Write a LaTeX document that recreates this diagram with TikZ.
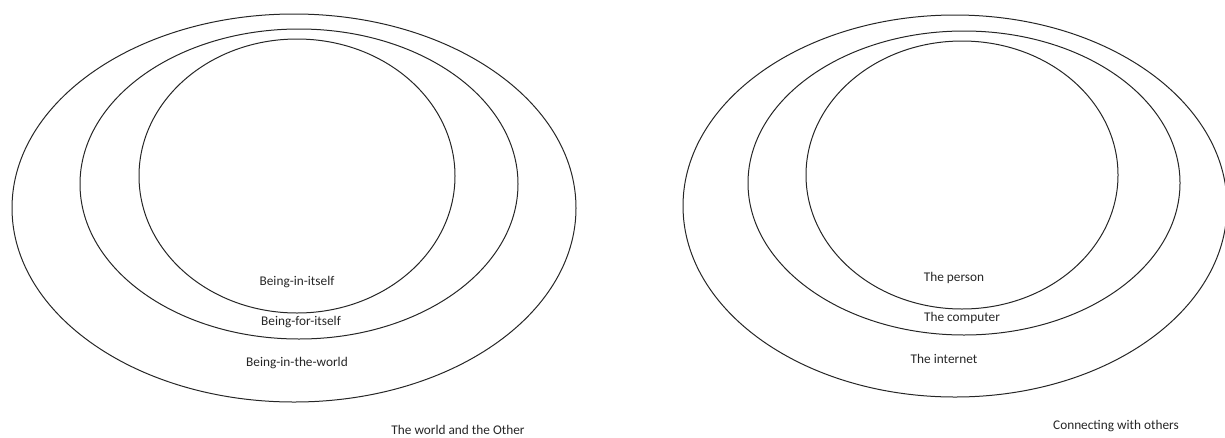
\documentclass[tikz,border=0pt]{standalone}
\usepackage{fontspec}
\setmainfont{Carlito}
\begin{document}
\begin{tikzpicture}[
  x=1pt, y=-1pt,
  every node/.style={font=\fontsize{13.3}{16}\selectfont, text=black!85, inner sep=0pt},
  ring/.style={draw=black!85, line width=1pt}
]
\clip (0,0) rectangle (1225,437);
% left: Being
\draw[ring] (294,208) ellipse [x radius=282pt, y radius=194pt];
\draw[ring] (299,184) ellipse [x radius=219pt, y radius=155pt];
\draw[ring] (297,176) ellipse [x radius=158pt, y radius=137pt];
\node (initself) at (297,282) {Being-in-itself};
\node (foritself) at (301,322) {Being-for-itself};
\node (inworld) at (297,363) {Being-in-the-world};
\node (worldother) at (458,430) {The world and the Other};
% right: person
\draw[ring] (955,206) ellipse [x radius=272pt, y radius=191pt];
\draw[ring] (964,183) ellipse [x radius=216pt, y radius=152pt];
\draw[ring] (962,175) ellipse [x radius=156pt, y radius=134pt];
\node (person) at (954,278) {The person};
\node (computer) at (962,318) {The computer};
\node (internet) at (944,359) {The internet};
\node (connecting) at (1116,426) {Connecting with others};
\end{tikzpicture}
\end{document}
